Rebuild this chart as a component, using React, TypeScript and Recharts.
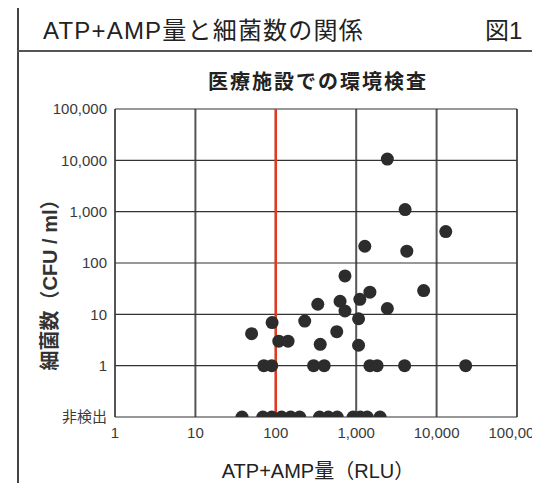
import React from 'react';
import { ScatterChart, Scatter, XAxis, YAxis, CartesianGrid, ReferenceLine } from 'recharts';

// 非検出 is plotted on the 0.1 line at the bottom of the log axis
const ND = 0.1;

const rluTicks = [1, 10, 100, 1000, 10000, 100000];
const cfuTicks = [ND, 1, 10, 100, 1000, 10000, 100000];

// samples where no bacteria were detected
const notDetectedRlu = [38, 69, 89, 118, 153, 198, 350, 450, 580, 915, 1120, 1370, 1980];

// samples with 1 CFU/ml
const oneCfuRlu = [71, 89, 295, 400, 1480, 1820, 4000, 23000];

// remaining samples
const detectedRlu = [50, 90, 109, 142, 229, 333, 357, 573, 630, 725, 1070, 1070, 1110, 1480, 2440, 2440, 4060, 13000, 1280, 4260, 725, 6900];
const detectedCfu = [4.2, 6.9, 3.0, 3.0, 7.4, 15.7, 2.6, 4.6, 18, 11.6, 8.2, 2.5, 19.6, 27, 13, 10600, 1100, 410, 212, 170, 56, 29];

const points = [
  ...notDetectedRlu.map((x) => ({ x, y: ND })),
  ...oneCfuRlu.map((x) => ({ x, y: 1 })),
  ...detectedRlu.map((x, i) => ({ x, y: detectedCfu[i] })),
];

const font = "'Liberation Sans', 'Noto Sans CJK JP', sans-serif";

const fmt = (v: number) => (v < 1 ? '非検出' : v.toLocaleString('en-US'));

const Dot = (props: any) => <circle cx={props.cx} cy={props.cy} r={6.5} fill="#2c2c2c" />;

export default function App() {
  return (
    <div
      style={{
        position: 'relative',
        width: 540,
        height: 491,
        margin: -8,
        overflow: 'hidden',
        background: '#fff',
        fontFamily: font,
        color: '#222',
      }}
    >
      {/* frame */}
      <div style={{ position: 'absolute', left: 17, top: 4, width: 600, height: 600, borderLeft: '2px solid #444', borderTop: '2px solid #555' }} />
      <div style={{ position: 'absolute', left: 17, top: 50, width: 600, height: 2, background: '#555' }} />

      <div style={{ position: 'absolute', left: 43, top: 11, fontSize: 24, letterSpacing: 1.2, whiteSpace: 'nowrap' }}>
        ATP+AMP量と細菌数の関係
      </div>
      <div style={{ position: 'absolute', left: 485, top: 11, fontSize: 24, whiteSpace: 'nowrap' }}>図1</div>

      <div style={{ position: 'absolute', left: 0, width: 636, top: 66, textAlign: 'center', fontSize: 20, fontWeight: 'bold', letterSpacing: 2 }}>
        医療施設での環境検査
      </div>

      <ScatterChart
        width={540}
        height={491}
        margin={{ top: 109, right: 23, bottom: 44, left: 0 }}
        style={{ position: 'absolute', left: 0, top: 0 }}
      >
        <CartesianGrid horizontal={false} stroke="#555" strokeWidth={2} />
        <CartesianGrid vertical={false} stroke="#333" strokeWidth={1.2} />
        <XAxis
          type="number"
          dataKey="x"
          scale="log"
          domain={[1, 100000]}
          ticks={rluTicks}
          allowDataOverflow
          tickFormatter={fmt}
          axisLine={false}
          tickLine={false}
          tickSize={0}
          tickMargin={10}
          height={30}
          tick={{ fill: '#3a3a3a', fontSize: 15, fontFamily: font }}
        />
        <YAxis
          type="number"
          dataKey="y"
          scale="log"
          domain={[ND, 100000]}
          ticks={cfuTicks}
          allowDataOverflow
          tickFormatter={fmt}
          axisLine={false}
          tickLine={false}
          tickSize={0}
          tickMargin={8}
          width={115}
          tick={{ fill: '#3a3a3a', fontSize: 15, fontFamily: font }}
        />
        <ReferenceLine x={100} stroke="#e5391f" strokeWidth={2.5} />
        <Scatter data={points} shape={Dot} isAnimationActive={false} />
      </ScatterChart>

      <div
        style={{
          position: 'absolute',
          left: 48,
          top: 280,
          transform: 'translate(-50%, -50%) rotate(-90deg)',
          fontSize: 20,
          fontWeight: 'bold',
          color: '#333',
          whiteSpace: 'nowrap',
        }}
      >
        細菌数（CFU / ml）
      </div>
      <div style={{ position: 'absolute', left: 0, width: 636, top: 455, textAlign: 'center', fontSize: 20, whiteSpace: 'nowrap' }}>
        ATP+AMP量（RLU）
      </div>
    </div>
  );
}
